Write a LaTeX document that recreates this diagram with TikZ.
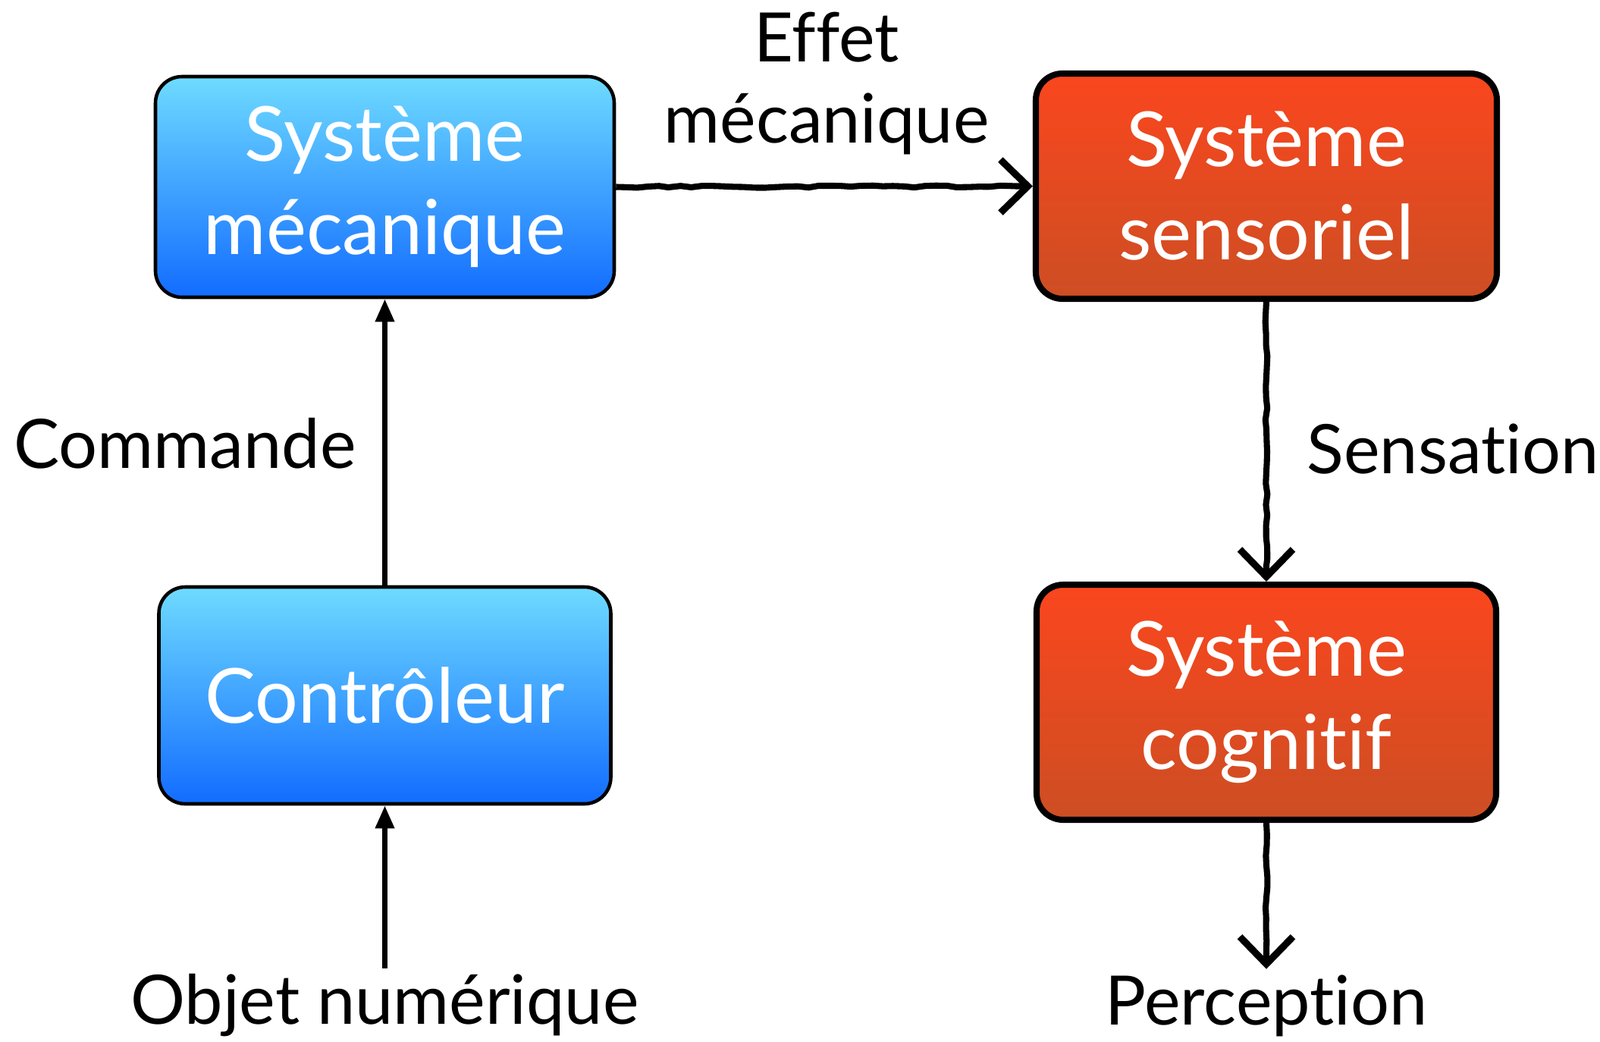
\documentclass[tikz,border=0pt]{standalone}
\usepackage{fontspec}
\setmainfont{Lato}[Ligatures=NoCommon]
\usetikzlibrary{arrows.meta,decorations.pathmorphing}

\definecolor{bleuhaut}{RGB}{110,219,255}
\definecolor{bleubas}{RGB}{18,108,255}
\definecolor{rougehaut}{RGB}{250,70,30}
\definecolor{rougebas}{RGB}{205,78,35}

\tikzset{
  boite/.style={rectangle, rounded corners=0.35cm, text=white, align=center,
    inner sep=0pt, font=\fontsize{28.5}{35}\selectfont},
  meca/.style={boite, draw=black, line width=1.3pt, top color=bleuhaut, bottom color=bleubas},
  sens/.style={boite, draw=black, line width=2.3pt, top color=rougehaut, bottom color=rougebas},
  etiquette/.style={align=center, inner sep=2pt, font=\fontsize{25.6}{30.5}\selectfont},
  fleche/.style={line width=1.9pt, -{Triangle[length=3mm, width=2.4mm]}},
  croquis/.style={line width=2.3pt, line join=round, -{Straight Barb[length=3.6mm, width=7mm, line width=2.6pt]},
    decorate, decoration={random steps, segment length=4pt, amplitude=0.4pt, post length=6pt}},
}

\begin{document}
\begin{tikzpicture}[y=-1cm]

% canvas, in pixels/100 of the original
\useasboundingbox (0,0) rectangle (21.1,13.74);

% left column
\node[meca, minimum width=6.05cm, minimum height=2.91cm] (mecanique) at (5.075,2.465) {Système\\mécanique};
\node[meca, minimum width=5.96cm, minimum height=2.86cm] (controleur) at (5.075,9.17) {Contrôleur};

% right column
\node[sens, minimum width=6.08cm, minimum height=2.97cm] (sensoriel) at (16.70,2.455) {Système\\sensoriel};
\node[sens, minimum width=6.06cm, minimum height=3.10cm] (cognitif) at (16.70,9.26) {Système\\cognitif};

% labels
\node[etiquette] (effet) at (10.9,1.1) {Effet\\mécanique};
\node[etiquette] (commande) at (2.44,5.85) {Commande};
\node[etiquette] (sensation) at (19.16,5.92) {Sensation};
\node[etiquette] (objet) at (5.075,13.26) {Objet numérique};
\node[etiquette] (perception) at (16.70,13.26) {Perception};

% connectors
\draw[fleche] (objet.north) -- (controleur.south);
\draw[fleche] (controleur.north) -- (mecanique.south);
\draw[croquis] (mecanique.east) -- (sensoriel.west);
\draw[croquis] (sensoriel.south) -- (cognitif.north);
\draw[croquis] (cognitif.south) -- (perception.north);

\end{tikzpicture}
\end{document}
